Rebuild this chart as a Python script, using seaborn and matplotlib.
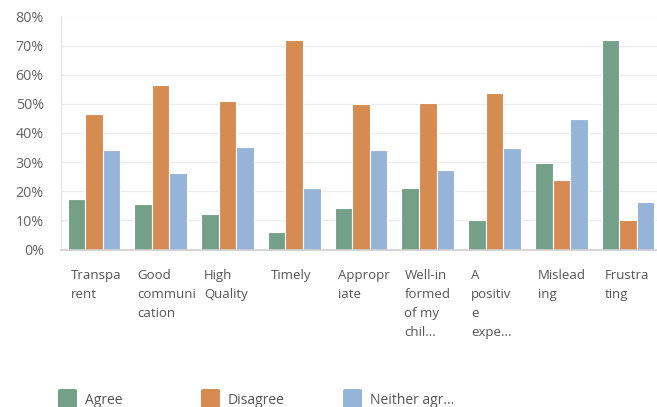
import matplotlib
matplotlib.use("Agg")
import matplotlib.pyplot as plt
from matplotlib.patches import FancyBboxPatch
from matplotlib.transforms import blended_transform_factory
import seaborn as sns
import pandas as pd

# Survey responses: share of respondents per descriptor
categories = ["Transpa\nrent", "Good\ncommuni\ncation", "High\nQuality", "Timely",
              "Appropr\niate", "Well-in\nformed\nof my\nchil...", "A\npositiv\ne\nexpe...",
              "Mislead\ning", "Frustra\nting"]
agree = [17.5, 15.6, 12.2, 5.9, 14.1, 21.0, 10.0, 29.7, 71.8]
disagree = [46.5, 56.6, 50.9, 71.8, 49.8, 50.3, 53.7, 23.8, 10.0]
neither = [34.0, 26.1, 35.2, 21.0, 34.0, 27.2, 34.8, 44.9, 16.3]
series_names = ["Agree", "Disagree", "Neither agr..."]
series_colors = ["#74a089", "#d68b52", "#96b4d8"]
y_ticks = [0, 10, 20, 30, 40, 50, 60, 70, 80]

rows = []
for name, vals in zip(series_names, [agree, disagree, neither]):
    for cat, v in zip(categories, vals):
        rows.append({"category": cat, "response": name, "value": v})
df = pd.DataFrame(rows)

sns.set_style("white")
plt.rcParams["font.family"] = ["Open Sans", "DejaVu Sans"]

fig = plt.figure(figsize=(6.57, 4.07), dpi=100)
W, H = 657, 407
ax = fig.add_axes([60.5 / W, 1 - 249.5 / H, (661.5 - 60.5) / W, (249.5 - 16.5) / H])

sns.barplot(data=df, x="category", y="value", hue="response",
            palette=series_colors, hue_order=series_names, order=categories,
            width=0.79, edgecolor="white", linewidth=0.8, saturation=1,
            legend=False, ax=ax)

ax.set_xlim(-0.5, len(categories) - 0.5)
ax.set_ylim(0, 80)
ax.set_yticks(y_ticks)
ax.set_yticklabels([f"{t}%" for t in y_ticks], fontsize=10.3, color="#666666")
ax.tick_params(axis="y", length=0, pad=12)
ax.set_xticks([])
ax.set_xlabel("")
ax.set_ylabel("")
ax.grid(axis="y", color="#ececec", linewidth=1)
ax.set_axisbelow(True)
for side in ["top", "right"]:
    ax.spines[side].set_visible(False)
ax.spines["left"].set_color("#e6e6e6")
ax.spines["left"].set_linewidth(1)
ax.spines["bottom"].set_color("#d0d0d0")
ax.spines["bottom"].set_linewidth(1.2)

# Wrapped category labels, left-aligned under each group
trans = blended_transform_factory(ax.transData, fig.transFigure)
for i, cat in enumerate(categories):
    ax.text(i - 0.35, 1 - 269 / H, cat, transform=trans, ha="left", va="top",
            fontsize=9.5, color="#555555", linespacing=1.6)

# Legend along the bottom edge
legend_x = [58, 201, 343]
for x, name, col in zip(legend_x, series_names, series_colors):
    fig.patches.append(FancyBboxPatch((x / W, 1 - 408 / H), 19 / W, 19 / H,
                                      boxstyle="round,pad=0,rounding_size=0.004",
                                      transform=fig.transFigure, facecolor=col,
                                      edgecolor="none"))
    fig.text((x + 27) / W, 1 - 400 / H, name, ha="left", va="center",
             fontsize=10, color="#555555")

fig.savefig("out.png", dpi=100)
